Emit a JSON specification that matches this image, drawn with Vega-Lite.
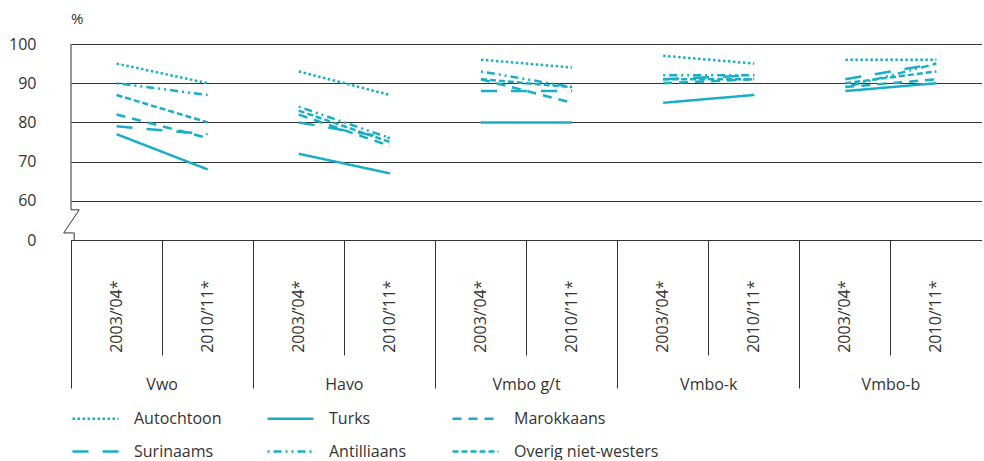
{
  "$schema": "https://vega.github.io/schema/vega-lite/v6.json",
  "width": 911,
  "height": 196,
  "padding": {"left": 8, "top": 12, "right": 0, "bottom": 0},
  "background": "white",
  "config": {
    "view": {"stroke": null},
    "font": "Open Sans",
    "legend": {"layout": {"bottom": {"anchor": "start"}}}
  },
  "title": {"text": "%", "anchor": "start", "frame": "group", "fontSize": 15, "fontWeight": "normal", "color": "#333333", "offset": 9, "font": "Open Sans"},
  "datasets": {
    "d": [
      {"g": "Vwo", "y": "2003/’04*", "s": "Autochtoon", "v": 95},
      {"g": "Vwo", "y": "2010/’11*", "s": "Autochtoon", "v": 90},
      {"g": "Vwo", "y": "2003/’04*", "s": "Turks", "v": 77},
      {"g": "Vwo", "y": "2010/’11*", "s": "Turks", "v": 68},
      {"g": "Vwo", "y": "2003/’04*", "s": "Marokkaans", "v": 82},
      {"g": "Vwo", "y": "2010/’11*", "s": "Marokkaans", "v": 76},
      {"g": "Vwo", "y": "2003/’04*", "s": "Surinaams", "v": 79},
      {"g": "Vwo", "y": "2010/’11*", "s": "Surinaams", "v": 77},
      {"g": "Vwo", "y": "2003/’04*", "s": "Antilliaans", "v": 90},
      {"g": "Vwo", "y": "2010/’11*", "s": "Antilliaans", "v": 87},
      {"g": "Vwo", "y": "2003/’04*", "s": "Overig niet-westers", "v": 87},
      {"g": "Vwo", "y": "2010/’11*", "s": "Overig niet-westers", "v": 80},
      {"g": "Havo", "y": "2003/’04*", "s": "Autochtoon", "v": 93},
      {"g": "Havo", "y": "2010/’11*", "s": "Autochtoon", "v": 87},
      {"g": "Havo", "y": "2003/’04*", "s": "Turks", "v": 72},
      {"g": "Havo", "y": "2010/’11*", "s": "Turks", "v": 67},
      {"g": "Havo", "y": "2003/’04*", "s": "Marokkaans", "v": 82},
      {"g": "Havo", "y": "2010/’11*", "s": "Marokkaans", "v": 74},
      {"g": "Havo", "y": "2003/’04*", "s": "Surinaams", "v": 80},
      {"g": "Havo", "y": "2010/’11*", "s": "Surinaams", "v": 76},
      {"g": "Havo", "y": "2003/’04*", "s": "Antilliaans", "v": 84},
      {"g": "Havo", "y": "2010/’11*", "s": "Antilliaans", "v": 76},
      {"g": "Havo", "y": "2003/’04*", "s": "Overig niet-westers", "v": 83},
      {"g": "Havo", "y": "2010/’11*", "s": "Overig niet-westers", "v": 75},
      {"g": "Vmbo g/t", "y": "2003/’04*", "s": "Autochtoon", "v": 96},
      {"g": "Vmbo g/t", "y": "2010/’11*", "s": "Autochtoon", "v": 94},
      {"g": "Vmbo g/t", "y": "2003/’04*", "s": "Turks", "v": 80},
      {"g": "Vmbo g/t", "y": "2010/’11*", "s": "Turks", "v": 80},
      {"g": "Vmbo g/t", "y": "2003/’04*", "s": "Marokkaans", "v": 91},
      {"g": "Vmbo g/t", "y": "2010/’11*", "s": "Marokkaans", "v": 85},
      {"g": "Vmbo g/t", "y": "2003/’04*", "s": "Surinaams", "v": 88},
      {"g": "Vmbo g/t", "y": "2010/’11*", "s": "Surinaams", "v": 88},
      {"g": "Vmbo g/t", "y": "2003/’04*", "s": "Antilliaans", "v": 93},
      {"g": "Vmbo g/t", "y": "2010/’11*", "s": "Antilliaans", "v": 89},
      {"g": "Vmbo g/t", "y": "2003/’04*", "s": "Overig niet-westers", "v": 91},
      {"g": "Vmbo g/t", "y": "2010/’11*", "s": "Overig niet-westers", "v": 89},
      {"g": "Vmbo-k", "y": "2003/’04*", "s": "Autochtoon", "v": 97},
      {"g": "Vmbo-k", "y": "2010/’11*", "s": "Autochtoon", "v": 95},
      {"g": "Vmbo-k", "y": "2003/’04*", "s": "Turks", "v": 85},
      {"g": "Vmbo-k", "y": "2010/’11*", "s": "Turks", "v": 87},
      {"g": "Vmbo-k", "y": "2003/’04*", "s": "Marokkaans", "v": 90},
      {"g": "Vmbo-k", "y": "2010/’11*", "s": "Marokkaans", "v": 91},
      {"g": "Vmbo-k", "y": "2003/’04*", "s": "Surinaams", "v": 91},
      {"g": "Vmbo-k", "y": "2010/’11*", "s": "Surinaams", "v": 92},
      {"g": "Vmbo-k", "y": "2003/’04*", "s": "Antilliaans", "v": 92},
      {"g": "Vmbo-k", "y": "2010/’11*", "s": "Antilliaans", "v": 92},
      {"g": "Vmbo-k", "y": "2003/’04*", "s": "Overig niet-westers", "v": 91},
      {"g": "Vmbo-k", "y": "2010/’11*", "s": "Overig niet-westers", "v": 91},
      {"g": "Vmbo-b", "y": "2003/’04*", "s": "Autochtoon", "v": 96},
      {"g": "Vmbo-b", "y": "2010/’11*", "s": "Autochtoon", "v": 96},
      {"g": "Vmbo-b", "y": "2003/’04*", "s": "Turks", "v": 88},
      {"g": "Vmbo-b", "y": "2010/’11*", "s": "Turks", "v": 90},
      {"g": "Vmbo-b", "y": "2003/’04*", "s": "Marokkaans", "v": 89},
      {"g": "Vmbo-b", "y": "2010/’11*", "s": "Marokkaans", "v": 91},
      {"g": "Vmbo-b", "y": "2003/’04*", "s": "Surinaams", "v": 91},
      {"g": "Vmbo-b", "y": "2010/’11*", "s": "Surinaams", "v": 95},
      {"g": "Vmbo-b", "y": "2003/’04*", "s": "Antilliaans", "v": 89},
      {"g": "Vmbo-b", "y": "2010/’11*", "s": "Antilliaans", "v": 95},
      {"g": "Vmbo-b", "y": "2003/’04*", "s": "Overig niet-westers", "v": 90},
      {"g": "Vmbo-b", "y": "2010/’11*", "s": "Overig niet-westers", "v": 93}
    ],
    "brk": [
      {"i": 0, "c": 0, "v": 100},
      {"i": 1, "c": 0, "v": 57.7},
      {"i": 2, "c": 0.09, "v": 57.7},
      {"i": 3, "c": -0.08, "v": 51.8},
      {"i": 4, "c": 0.035, "v": 51.8},
      {"i": 5, "c": 0.035, "v": 50}
    ]
  },
  "layer": [
    {
      "data": {"name": "d"},
      "transform": [{"calculate": "datum.g + '|' + datum.y", "as": "k"}],
      "layer": [
        {
          "mark": {"type": "line", "color": "#19aec6", "strokeWidth": 2.5},
          "encoding": {
            "x": {
              "field": "k", "type": "nominal", "bandPosition": 0.5,
              "scale": {"type": "band", "paddingInner": 0, "paddingOuter": 0,
                "domain": ["Vwo|2003/’04*", "Vwo|2010/’11*", "Havo|2003/’04*", "Havo|2010/’11*", "Vmbo g/t|2003/’04*", "Vmbo g/t|2010/’11*", "Vmbo-k|2003/’04*", "Vmbo-k|2010/’11*", "Vmbo-b|2003/’04*", "Vmbo-b|2010/’11*"]},
              "axis": {
                "title": null, "orient": "bottom", "bandPosition": 0, "grid": false,
                "domain": true, "domainColor": "#333333", "domainWidth": 1,
                "ticks": true, "tickColor": "#333333", "tickWidth": 1,
                "tickSize": {"condition": {"test": "indexof(datum.value, '2003') >= 0", "value": 148}, "value": 115},
                "labelExpr": "indexof(datum.value, '2010') >= 0 ? split(datum.value, '|')[0] : ''",
                "labelAngle": 0, "labelAlign": "center", "labelPadding": 21, "labelOffset": -45.5,
                "labelFontSize": 16, "labelColor": "#333333", "labelOverlap": false, "labelFont": "Open Sans"
              }
            },
            "y": {
              "field": "v", "type": "quantitative",
              "scale": {"domain": [50, 100], "nice": false, "zero": false},
              "axis": {
                "title": null, "values": [50, 60, 70, 80, 90, 100], "labelOverlap": false,
                "labelExpr": "datum.value == 50 ? '0' : datum.label",
                "domain": false, "ticks": false, "grid": true, "gridColor": "#333333", "gridWidth": 1,
                "labelPadding": 35, "labelFontSize": 16, "labelColor": "#333333", "labelFont": "Open Sans"
              }
            },
            "detail": {"field": "g", "type": "nominal"},
            "strokeDash": {
              "field": "s", "type": "nominal",
              "scale": {
                "domain": ["Autochtoon", "Turks", "Marokkaans", "Surinaams", "Antilliaans", "Overig niet-westers"],
                "range": [[2.5, 2.5], [1, 0], [9, 7], [16, 14], [2, 4, 8, 4, 2, 4], [6, 3]]
              },
              "legend": {
                "orient": "bottom", "title": null, "columns": 3, "direction": "horizontal",
                "symbolType": "stroke", "symbolSize": 2116, "symbolStrokeWidth": 2.5, "symbolStrokeColor": "#19aec6",
                "labelFontSize": 16, "labelColor": "#333333", "labelOffset": 14, "labelFont": "Open Sans",
                "columnPadding": 40, "rowPadding": 0, "offset": -31, "padding": 0
              }
            }
          }
        },
        {
          "mark": {"type": "point", "opacity": 0},
          "encoding": {
            "x": {
              "field": "k", "type": "nominal",
              "scale": {"type": "band", "paddingInner": 0, "paddingOuter": 0},
              "axis": {
                "title": null, "orient": "bottom", "bandPosition": 0.5, "grid": false,
                "domain": false, "ticks": false,
                "labelExpr": "split(datum.value, '|')[1]",
                "labelAngle": -90, "labelAlign": "right", "labelBaseline": "middle", "labelPadding": 40,
                "labelFontSize": 16, "labelColor": "#333333", "labelOverlap": false, "labelFont": "Open Sans"
              }
            },
            "y": {
              "field": "v", "type": "quantitative",
              "scale": {"domain": [50, 100], "nice": false, "zero": false},
              "axis": {
                "title": null, "values": [50, 60, 70, 80, 90, 100], "labelOverlap": false,
                "labelExpr": "datum.value == 50 ? '0' : datum.label",
                "domain": false, "ticks": false, "grid": true, "gridColor": "#333333", "gridWidth": 1,
                "labelPadding": 35, "labelFontSize": 16, "labelColor": "#333333", "labelFont": "Open Sans"
              }
            }
          }
        }
      ],
      "resolve": {"axis": {"x": "independent"}}
    },
    {
      "data": {"name": "brk"},
      "mark": {"type": "line", "color": "#333333", "strokeWidth": 1},
      "encoding": {
        "x": {"field": "c", "type": "quantitative", "scale": {"domain": [0, 10], "nice": false, "zero": false}, "axis": null},
        "y": {
          "field": "v", "type": "quantitative",
          "scale": {"domain": [50, 100], "nice": false, "zero": false},
          "axis": {
            "title": null, "values": [50, 60, 70, 80, 90, 100], "labelOverlap": false,
            "labelExpr": "datum.value == 50 ? '0' : datum.label",
            "domain": false, "ticks": false, "grid": true, "gridColor": "#333333", "gridWidth": 1,
            "labelPadding": 35, "labelFontSize": 16, "labelColor": "#333333", "labelFont": "Open Sans"
          }
        },
        "order": {"field": "i", "type": "quantitative"}
      }
    }
  ],
  "resolve": {"scale": {"x": "independent"}, "axis": {"x": "independent"}}
}
